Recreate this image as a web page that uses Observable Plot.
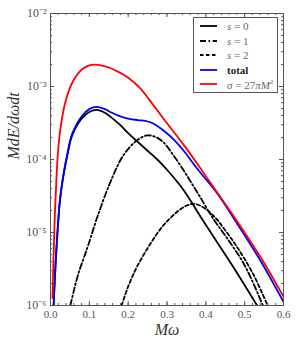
<!DOCTYPE html>
<html><head><meta charset="utf-8">
<script src="https://cdn.jsdelivr.net/npm/d3@7"></script>
<script src="https://cdn.jsdelivr.net/npm/@observablehq/plot@0.6"></script>
<style>
body{margin:0;background:#fff;}
#wrap{position:relative;width:298px;height:343px;}
#legend{position:absolute;left:193px;top:17px;width:85px;height:76px;border:1px solid #555;background:#fff;box-sizing:border-box;font-family:"Liberation Serif",serif;font-size:11px;color:#666;}
.row{position:absolute;left:0;height:14px;display:flex;align-items:center;white-space:nowrap;}
.row svg{margin-left:6px;}
.row span{margin-left:10px;}
</style></head><body><div id="wrap"></div>
<script>
// Data: [Mω, log10(M dE/dω dt)]
const s0 = [[0.008,-6.0],[0.015,-5.25],[0.024,-4.58],[0.032,-4.26],[0.045,-3.9],[0.055,-3.68],[0.08,-3.44],[0.10,-3.35],[0.119,-3.32],[0.14,-3.36],[0.158,-3.43],[0.18,-3.53],[0.20,-3.64],[0.225,-3.76],[0.25,-3.88],[0.275,-4.0],[0.30,-4.14],[0.343,-4.42],[0.386,-4.78],[0.43,-5.14],[0.48,-5.55],[0.532,-6.0]];
const s1 = [[0.051,-6.0],[0.06,-5.8],[0.072,-5.56],[0.085,-5.36],[0.098,-5.16],[0.123,-4.75],[0.158,-4.26],[0.188,-3.94],[0.22,-3.75],[0.248,-3.67],[0.27,-3.69],[0.29,-3.76],[0.315,-3.93],[0.343,-4.15],[0.364,-4.33],[0.386,-4.52],[0.42,-4.82],[0.455,-5.08],[0.50,-5.45],[0.547,-6.0]];
const s2 = [[0.183,-6.0],[0.20,-5.74],[0.218,-5.52],[0.235,-5.35],[0.252,-5.2],[0.27,-5.05],[0.291,-4.9],[0.309,-4.8],[0.33,-4.7],[0.351,-4.63],[0.365,-4.61],[0.38,-4.62],[0.40,-4.68],[0.425,-4.8],[0.45,-4.97],[0.478,-5.18],[0.52,-5.55],[0.559,-6.0]];
const total = [[0.008,-6.0],[0.015,-5.25],[0.024,-4.57],[0.032,-4.25],[0.045,-3.88],[0.055,-3.66],[0.08,-3.41],[0.10,-3.31],[0.119,-3.28],[0.14,-3.31],[0.158,-3.36],[0.18,-3.41],[0.20,-3.44],[0.225,-3.46],[0.244,-3.47],[0.257,-3.49],[0.275,-3.54],[0.295,-3.62],[0.32,-3.74],[0.343,-3.88],[0.377,-4.12],[0.43,-4.47],[0.476,-4.84],[0.54,-5.38],[0.60,-5.95]];
const geo = [[0.005,-5.9],[0.008,-5.3],[0.011,-4.79],[0.015,-4.3],[0.019,-3.92],[0.025,-3.6],[0.037,-3.24],[0.05,-3.02],[0.063,-2.88],[0.08,-2.77],[0.10,-2.71],[0.115,-2.70],[0.13,-2.71],[0.15,-2.74],[0.175,-2.80],[0.20,-2.88],[0.23,-3.02],[0.257,-3.20],[0.295,-3.47],[0.343,-3.80],[0.39,-4.15],[0.43,-4.46],[0.476,-4.81],[0.54,-5.33],[0.60,-5.88]];

const xMajor = [0, 0.1, 0.2, 0.3, 0.4, 0.5, 0.6];
const xMinor = d3.range(0, 0.6001, 0.02);
const yMajor = [1e-6, 1e-5, 1e-4, 1e-3, 1e-2];
const yMinor = d3.range(-6, -2).flatMap(k => d3.range(2, 10).map(m => m * 10 ** k));

const legendLabels = ["<i>s</i> = 0", "<i>s</i> = 1", "<i>s</i> = 2", "<b style='color:#222'>total</b>", "<i>σ</i> = 27<i>πM</i><sup style='font-size:7px'>2</sup>"];
const seriesStyles = [
  {data: s2, stroke: "#000", dash: "3.5,2.5"},
  {data: s1, stroke: "#000", dash: "6,2.5,1.6,2.5"},
  {data: s0, stroke: "#000", dash: null},
  {data: total, stroke: "#0000ff", dash: null},
  {data: geo, stroke: "#ff0000", dash: null}
];
const legendOrder = [2, 1, 0, 3, 4];

const W = 298, H = 343, mL = 50, mT = 13, mR = 15, mB = 38;
const innerW = W - mL - mR, innerH = H - mT - mB;
const toRows = arr => arr.map(([x, e]) => ({x, y: 10 ** e}));
const supMap = {"-": "⁻", "0": "⁰", "1": "¹", "2": "²", "3": "³", "4": "⁴", "5": "⁵", "6": "⁶", "7": "⁷", "8": "⁸", "9": "⁹"};
const sup = d => "10" + String(Math.round(Math.log10(d))).split("").map(c => supMap[c]).join("");
const tickColor = "#555";

const chart = Plot.plot({
  width: W, height: H, marginLeft: mL, marginTop: mT, marginRight: mR, marginBottom: mB,
  style: {fontFamily: "'Liberation Serif', serif", fontSize: "11px", color: "#555", background: "#fff"},
  x: {domain: [0, 0.6]},
  y: {type: "log", domain: [1e-6, 1e-2]},
  marks: [
    ...seriesStyles.map(s => Plot.line(toRows(s.data), {x: "x", y: "y", stroke: s.stroke, strokeWidth: 1.8, strokeDasharray: s.dash, curve: "catmull-rom", clip: true})),
    Plot.frame({stroke: tickColor}),
    Plot.tickX(xMajor, {x: d => d, stroke: tickColor, insetTop: innerH - 4}),
    Plot.tickX(xMajor, {x: d => d, stroke: tickColor, insetBottom: innerH - 4}),
    Plot.tickX(xMinor, {x: d => d, stroke: tickColor, insetTop: innerH - 2}),
    Plot.tickX(xMinor, {x: d => d, stroke: tickColor, insetBottom: innerH - 2}),
    Plot.tickY(yMajor, {y: d => d, stroke: tickColor, insetRight: innerW - 4}),
    Plot.tickY(yMajor, {y: d => d, stroke: tickColor, insetLeft: innerW - 4}),
    Plot.tickY(yMinor, {y: d => d, stroke: tickColor, insetRight: innerW - 2}),
    Plot.tickY(yMinor, {y: d => d, stroke: tickColor, insetLeft: innerW - 2}),
    Plot.axisX(xMajor, {anchor: "bottom", tickSize: 0, tickPadding: 5, tickFormat: d3.format(".1f"), label: null}),
    Plot.axisY(yMajor, {anchor: "left", tickSize: 0, tickPadding: 4, tickFormat: sup, label: null, fontSize: 12}),
    Plot.text(["Mω"], {text: d => d, frameAnchor: "bottom", dy: 24, lineAnchor: "middle", fontStyle: "italic", fontSize: 16, fill: "#333"}),
    Plot.text(["MdE/dωdt"], {text: d => d, frameAnchor: "left", dx: -37, rotate: -90, fontStyle: "italic", fontSize: 16, fill: "#333"})
  ]
});
const wrap = document.getElementById("wrap");
wrap.appendChild(chart);

const legend = document.createElement("div");
legend.id = "legend";
legendOrder.forEach((si, i) => {
  const s = seriesStyles[si];
  const row = document.createElement("div");
  row.className = "row";
  row.style.top = (1 + i * 14.5) + "px";
  row.innerHTML = `<svg width="17" height="6"><line x1="0" x2="17" y1="3" y2="3" stroke="${s.stroke}" stroke-width="1.8" ${s.dash ? `stroke-dasharray="${s.dash}"` : ""}/></svg><span>${legendLabels[i]}</span>`;
  legend.appendChild(row);
});
wrap.appendChild(legend);
</script></body></html>
